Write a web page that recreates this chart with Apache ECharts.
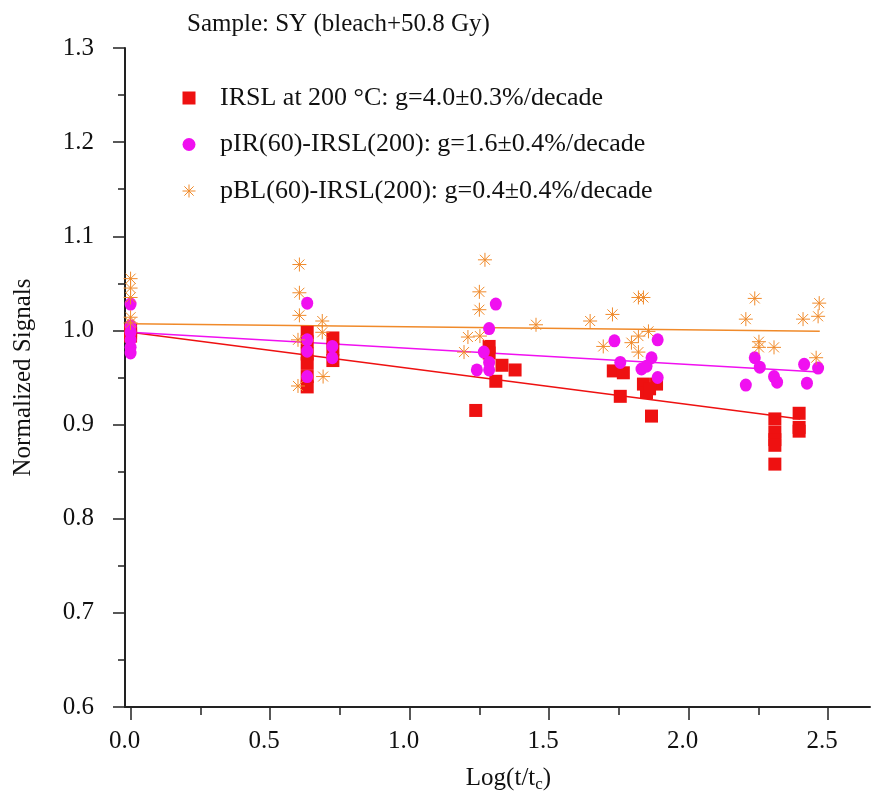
<!DOCTYPE html>
<html>
<head>
<meta charset="utf-8">
<script src="https://cdn.jsdelivr.net/npm/echarts@6/dist/echarts.min.js"></script>
<style>html,body{margin:0;padding:0;background:#fff;}#c{width:874px;height:798px;}</style>
</head>
<body>
<div id="c"></div>
<script>
// ---- data ----
const xMajorTicks = [0, 0.5, 1.0, 1.5, 2.0, 2.5];
const xMinorTicks = [0.25, 0.75, 1.25, 1.75, 2.25];
const seriesNames = [
  'IRSL at 200 \u00B0C: g=4.0\u00B10.3%/decade',
  'pIR(60)-IRSL(200): g=1.6\u00B10.4%/decade',
  'pBL(60)-IRSL(200): g=0.4\u00B10.4%/decade'
];
const irslData = [
  [0,1.000],[0,0.997],[0,0.994],
  [0.633,0.998],[0.633,0.988],[0.633,0.975],[0.633,0.965],[0.633,0.951],[0.633,0.940],
  [0.725,0.992],[0.725,0.980],[0.725,0.968],
  [1.237,0.915],[1.285,0.983],[1.285,0.976],[1.309,0.946],[1.331,0.963],[1.378,0.958],
  [1.730,0.957],[1.766,0.955],[1.755,0.930],[1.838,0.943],[1.849,0.934],[1.885,0.943],[1.867,0.909],[1.860,0.938],
  [2.309,0.906],[2.309,0.892],[2.309,0.884],[2.309,0.878],[2.309,0.858],
  [2.396,0.912],[2.396,0.897],[2.396,0.893]
];
const pirData = [
  [0,1.028],[0,1.005],[0,0.998],[0,0.990],[0,0.982],[0,0.976],
  [0.633,1.029],[0.633,0.990],[0.633,0.978],[0.633,0.951],
  [0.723,0.983],[0.723,0.971],
  [1.309,1.028],[1.285,1.002],[1.285,0.966],[1.285,0.958],[1.266,0.977],[1.241,0.958],
  [1.734,0.989],[1.889,0.990],[1.889,0.950],[1.755,0.966],[1.867,0.971],[1.831,0.959],[1.849,0.962],
  [2.237,0.971],[2.255,0.961],[2.205,0.942],[2.306,0.951],[2.317,0.945],[2.414,0.964],[2.464,0.960],[2.424,0.944]
];
const pblData = [
  [0,1.055],[0,1.045],[0,1.035],[0,1.014],[0,1.008],
  [0.605,1.070],[0.605,1.040],[0.605,1.016],[0.600,0.990],[0.600,0.941],
  [0.687,1.010],[0.687,0.998],[0.690,0.951],
  [1.270,1.075],[1.250,1.041],[1.250,1.022],[1.453,1.006],[1.209,0.993],[1.252,0.994],[1.195,0.977],
  [1.820,1.035],[1.838,1.035],[1.820,0.994],[1.820,0.977],[1.727,1.017],[1.647,1.010],[1.856,0.999],[1.694,0.983],[1.795,0.987],
  [2.237,1.034],[2.205,1.012],[2.410,1.012],[2.468,1.029],[2.464,1.015],[2.252,0.988],[2.252,0.982],[2.306,0.982],[2.457,0.971]
];
const irslFit = [[0,0.998],[2.40,0.906]];
const pirFit = [[0,0.998],[2.45,0.956]];
const pblFit = [[0,1.007],[2.47,0.999]];

// ---- styles ----
const RED = '#EE1111', MAG = '#F010F0', ORA = '#F08A2A';
const FONT = "'Liberation Serif','Times New Roman',serif";
const STAR = 'path://M0,-7L0,7M-7,0L7,0M-5,-5L5,5M-5,5L5,-5';
const SQUARE = 'path://M0,0L10,0L10,10L0,10Z';

const chart = echarts.init(document.getElementById('c'));
chart.setOption({
  animation: false,
  backgroundColor: '#fff',
  title: {
    text: 'Sample: SY (bleach+50.8 Gy)',
    left: 182, top: 7,
    textStyle: {fontFamily: FONT, fontSize: 25, fontWeight: 'normal', color: '#111'}
  },
  legend: {
    orient: 'vertical', left: 177, top: 80,
    itemWidth: 52, itemHeight: 13, itemGap: 20.5,
    textStyle: {fontFamily: FONT, fontSize: 26, color: '#111', lineHeight: 26},
    selectedMode: false,
    data: [
      {name: seriesNames[0], icon: SQUARE},
      {name: seriesNames[1], icon: 'circle'},
      {name: seriesNames[2], icon: STAR, itemStyle: {color: 'transparent', borderColor: ORA, borderWidth: 1}}
    ]
  },
  grid: {left: 125, right: 4, top: 48, bottom: 89},
  xAxis: [{
    type: 'value', min: -0.02, max: 2.65,
    name: 'Log(t/t{sub|c})', nameLocation: 'middle', nameGap: 57,
    nameTextStyle: {fontFamily: FONT, fontSize: 25, color: '#111', padding: [0, 0, 0, 22],
      rich: {sub: {fontFamily: FONT, fontSize: 17, color: '#111', verticalAlign: 'bottom', padding: [12, 0, 0, 0]}}},
    axisLine: {show: true, onZero: false, lineStyle: {color: '#222', width: 2}},
    axisTick: {show: true, length: 13, customValues: xMajorTicks, lineStyle: {color: '#222', width: 1.5}},
    axisLabel: {customValues: xMajorTicks, margin: 22, padding: [0, 12, 0, 0], fontFamily: FONT, fontSize: 25, color: '#111',
      formatter: v => v.toFixed(1)},
    splitLine: {show: false}
  }, {
    type: 'value', min: -0.02, max: 2.65, position: 'bottom',
    axisLine: {show: false},
    axisTick: {show: true, length: 8, customValues: xMinorTicks, lineStyle: {color: '#222', width: 1.5}},
    axisLabel: {show: false},
    splitLine: {show: false}
  }],
  yAxis: {
    type: 'value', min: 0.6, max: 1.3, interval: 0.1,
    name: 'Normalized Signals', nameLocation: 'middle', nameGap: 89,
    nameTextStyle: {fontFamily: FONT, fontSize: 25, color: '#111'},
    axisLine: {show: true, onZero: false, lineStyle: {color: '#222', width: 2}},
    axisTick: {show: true, length: 12, lineStyle: {color: '#222', width: 1.5}},
    minorTick: {show: true, splitNumber: 2, length: 7, lineStyle: {color: '#222', width: 1.5}},
    axisLabel: {margin: 31, fontFamily: FONT, fontSize: 25, color: '#111', formatter: v => v.toFixed(1)},
    splitLine: {show: false}
  },
  series: [
    {type: 'line', data: irslFit, symbol: 'none', lineStyle: {color: RED, width: 1.5}, z: 1, silent: true},
    {type: 'line', data: pirFit, symbol: 'none', lineStyle: {color: MAG, width: 1.5}, z: 1, silent: true},
    {type: 'line', data: pblFit, symbol: 'none', lineStyle: {color: ORA, width: 1.5}, z: 1, silent: true},
    {name: seriesNames[0], type: 'scatter', data: irslData, symbol: 'rect', symbolSize: 13,
      itemStyle: {color: RED, opacity: 1}, z: 2},
    {name: seriesNames[1], type: 'scatter', data: pirData, symbol: 'circle', symbolSize: [12, 13],
      itemStyle: {color: MAG, opacity: 1}, z: 3},
    {name: seriesNames[2], type: 'scatter', data: pblData, symbol: STAR, symbolSize: 14,
      itemStyle: {color: 'transparent', borderColor: ORA, borderWidth: 1, opacity: 1}, z: 4}
  ]
});
</script>
</body>
</html>
